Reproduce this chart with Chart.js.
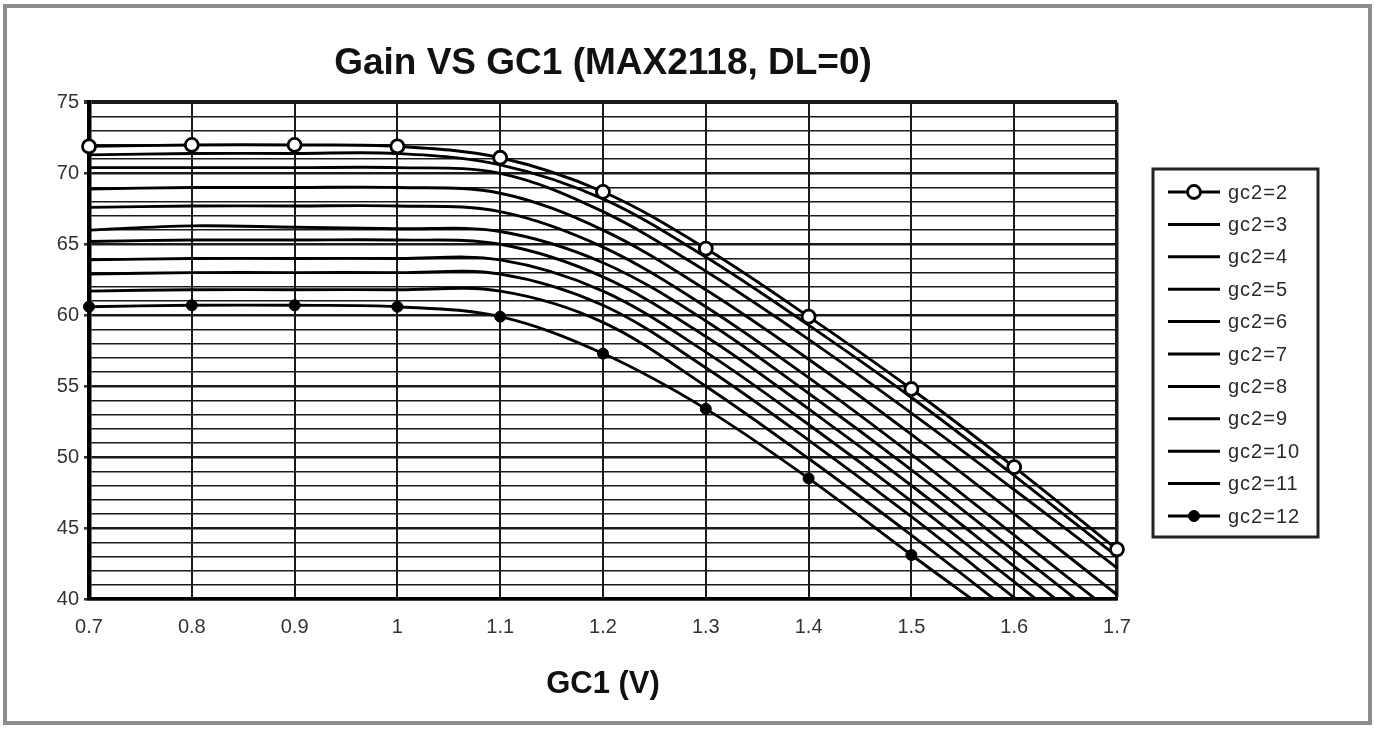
<!DOCTYPE html>
<html>
<head>
<meta charset="utf-8">
<title>Gain VS GC1 (MAX2118, DL=0)</title>
<script src="https://cdn.jsdelivr.net/npm/chart.js@4.4.1/dist/chart.umd.min.js"></script>
<style>
  html, body { margin: 0; padding: 0; background: #fff; }
  .frame {
    position: absolute; left: 3px; top: 4px;
    width: 1361px; height: 713px;
    border: 4px solid #8c8c8c;
  }
  .exhibit { position: absolute; left: 0; top: 0; width: 1375px; height: 729px; }
</style>
</head>
<body>
<div class="frame"></div>
<div class="exhibit">
  <canvas id="graph_gain" width="1375" height="729"></canvas>
</div>
<script>
// GC1 control voltage (V), one entry per measured point.
var gc1Volts = [0.7, 0.8, 0.9, 1.0, 1.1, 1.2, 1.3, 1.4, 1.5, 1.6, 1.7];

// Gain (dB) for each GC2 setting.
var gc2_2  = [71.9, 72.0, 72.0, 71.9, 71.1, 68.7, 64.7, 59.9, 54.8, 49.3, 43.5];
var gc2_3  = [71.3, 71.4, 71.4, 71.4, 70.6, 68.2, 64.1, 59.3, 54.2, 48.7, 43.0];
var gc2_4  = [70.4, 70.4, 70.4, 70.4, 70.0, 67.3, 63.1, 58.3, 53.1, 47.7, 42.2];
var gc2_5  = [68.9, 69.0, 69.0, 69.0, 68.6, 66.0, 61.8, 56.9, 51.6, 46.0, 40.3];
var gc2_6  = [67.6, 67.7, 67.7, 67.7, 67.3, 64.8, 60.6, 55.6, 50.2, 44.5, 38.8];
var gc2_7  = [66.0, 66.3, 66.2, 66.1, 65.9, 63.7, 59.6, 54.5, 49.1, 43.4, 37.7];
var gc2_8  = [65.2, 65.3, 65.3, 65.3, 65.0, 62.7, 58.5, 53.4, 48.0, 42.3, 36.6];
var gc2_9  = [63.9, 64.0, 64.0, 64.0, 63.9, 61.7, 57.4, 52.3, 46.9, 41.2, 35.5];
var gc2_10 = [62.9, 63.0, 63.0, 63.0, 62.9, 60.7, 56.3, 51.2, 45.8, 40.1, 34.4];
var gc2_11 = [61.7, 61.8, 61.8, 61.8, 61.7, 59.5, 55.0, 49.9, 44.5, 38.9, 33.3];
var gc2_12 = [60.6, 60.7, 60.7, 60.6, 59.9, 57.3, 53.4, 48.5, 43.1, 37.8, 32.3];

var seriesLabels = ['gc2=2', 'gc2=3', 'gc2=4', 'gc2=5', 'gc2=6', 'gc2=7',
                    'gc2=8', 'gc2=9', 'gc2=10', 'gc2=11', 'gc2=12'];
var seriesValues = [gc2_2, gc2_3, gc2_4, gc2_5, gc2_6, gc2_7,
                    gc2_8, gc2_9, gc2_10, gc2_11, gc2_12];

// Tick labels printed on the axes.
var xTickLabels = ['0.7', '0.8', '0.9', '1', '1.1', '1.2', '1.3', '1.4', '1.5', '1.6', '1.7'];
var yTickLabels = ['40', '45', '50', '55', '60', '65', '70', '75'];

// ----------------------------------------------------------------------------

// Returns the printed label for an x tick value, or '' if there is none.
function xLabelFor(value) {
  for (var i = 0; i < xTickLabels.length; i++) {
    if (Math.abs(parseFloat(xTickLabels[i]) - value) < 1e-6) return xTickLabels[i];
  }
  return '';
}

// Returns the printed label for a y tick value, or '' for the 1 dB lines.
function yLabelFor(value) {
  var idx = yTickLabels.indexOf(String(Math.round(value)));
  return idx >= 0 ? yTickLabels[idx] : '';
}

// Builds one line dataset. The first series gets open circles, the last
// one filled dots, the rest are plain lines.
function makeDataset(label, values, index) {
  var last = seriesLabels.length - 1;
  var points = values.map(function(v, i) { return { x: gc1Volts[i], y: v }; });
  var ds = {
    label: label,
    data: points,
    borderColor: '#000',
    borderWidth: 2.9,
    tension: 0.35,
    pointRadius: 0,
    pointHoverRadius: 0,
    // Let the end markers spill over the plot edge, but cut the lines
    // that run below 40 dB at the bottom axis.
    clip: { left: 12, right: 12, top: 12, bottom: 0 }
  };
  if (index === 0) {
    ds.pointRadius = 6.5;
    ds.pointBackgroundColor = '#fff';
    ds.pointBorderColor = '#000';
    ds.pointBorderWidth = 2.8;
  } else if (index === last) {
    ds.pointRadius = 5.5;
    ds.pointBackgroundColor = '#000';
    ds.pointBorderColor = '#000';
    ds.pointBorderWidth = 1;
  }
  return ds;
}

// Draws the boxed legend to the right of the plot.
var boxLegend = {
  id: 'boxLegend',
  afterDraw: function(chart) {
    var ctx = chart.ctx;
    var box = { left: 1153, top: 169, right: 1318, bottom: 537 };
    var firstY = 192, stepY = 32.4;

    ctx.save();
    ctx.lineWidth = 3;
    ctx.strokeStyle = '#222';
    ctx.strokeRect(box.left, box.top, box.right - box.left, box.bottom - box.top);

    ctx.font = '20px "Liberation Sans", Arial, sans-serif';
    ctx.textBaseline = 'middle';
    ctx.fillStyle = '#2a2a2a';
    if ('letterSpacing' in ctx) ctx.letterSpacing = '1px';

    chart.data.datasets.forEach(function(ds, i) {
      var y = firstY + i * stepY;
      ctx.beginPath();
      ctx.moveTo(1168, y);
      ctx.lineTo(1220, y);
      ctx.lineWidth = 3;
      ctx.strokeStyle = '#000';
      ctx.stroke();

      if (ds.pointRadius > 0) {
        ctx.beginPath();
        ctx.arc(1194, y, ds.pointRadius, 0, Math.PI * 2);
        ctx.fillStyle = ds.pointBackgroundColor;
        ctx.fill();
        ctx.lineWidth = ds.pointBorderWidth;
        ctx.strokeStyle = '#000';
        ctx.stroke();
        ctx.fillStyle = '#2a2a2a';
      }
      ctx.fillText(ds.label, 1228, y + 1);
    });
    ctx.restore();
  }
};

var chart = new Chart(document.getElementById('graph_gain'), {
  type: 'line',
  data: {
    datasets: seriesLabels.map(function(label, i) {
      return makeDataset(label, seriesValues[i], i);
    })
  },
  plugins: [boxLegend],
  options: {
    responsive: false,
    animation: false,
    events: [],
    layout: { padding: { left: 0, right: 258, top: 0, bottom: 0 } },
    plugins: {
      legend: { display: false },
      tooltip: { enabled: false },
      title: {
        display: true,
        fullSize: false,
        text: 'Gain VS GC1 (MAX2118, DL=0)',
        color: '#111',
        font: { family: '"Liberation Sans", Arial, sans-serif', size: 37, weight: 'bold' },
        padding: { top: 42, bottom: 16 }
      }
    },
    scales: {
      x: {
        type: 'linear',
        min: 0.7,
        max: 1.7,
        afterFit: function(scale) { scale.height = 130; },
        ticks: {
          stepSize: 0.1,
          autoSkip: false,
          maxRotation: 0,
          padding: 16,
          color: '#333',
          font: { family: '"Liberation Sans", Arial, sans-serif', size: 20 },
          callback: function(value) { return xLabelFor(value); }
        },
        grid: {
          drawTicks: false,
          color: '#1a1a1a',
          lineWidth: function(ctx) {
            return ctx.tick && Math.abs(ctx.tick.value - 1.7) < 1e-6 ? 3.5 : 2;
          }
        },
        border: { display: true, color: '#000', width: 3.5 },
        title: {
          display: true,
          text: 'GC1 (V)',
          color: '#111',
          font: { family: '"Liberation Sans", Arial, sans-serif', size: 31, weight: 'bold' },
          padding: { top: 0, bottom: 26 }
        }
      },
      y: {
        min: 40,
        max: 75,
        afterFit: function(scale) { scale.width = 89; },
        ticks: {
          stepSize: 1,
          autoSkip: false,
          padding: 5,
          color: '#333',
          font: { family: '"Liberation Sans", Arial, sans-serif', size: 20 },
          callback: function(value) { return yLabelFor(value); }
        },
        grid: {
          tickLength: 5,
          color: '#1a1a1a',
          tickColor: function(ctx) {
            return ctx.tick && ctx.tick.value % 5 === 0 ? '#333' : 'rgba(0,0,0,0)';
          },
          lineWidth: function(ctx) {
            if (!ctx.tick) return 1.4;
            if (ctx.tick.value === 75) return 4;
            return ctx.tick.value % 5 === 0 ? 2.6 : 1.4;
          }
        },
        border: { display: true, color: '#000', width: 4.5 }
      }
    }
  }
});
</script>
</body>
</html>
